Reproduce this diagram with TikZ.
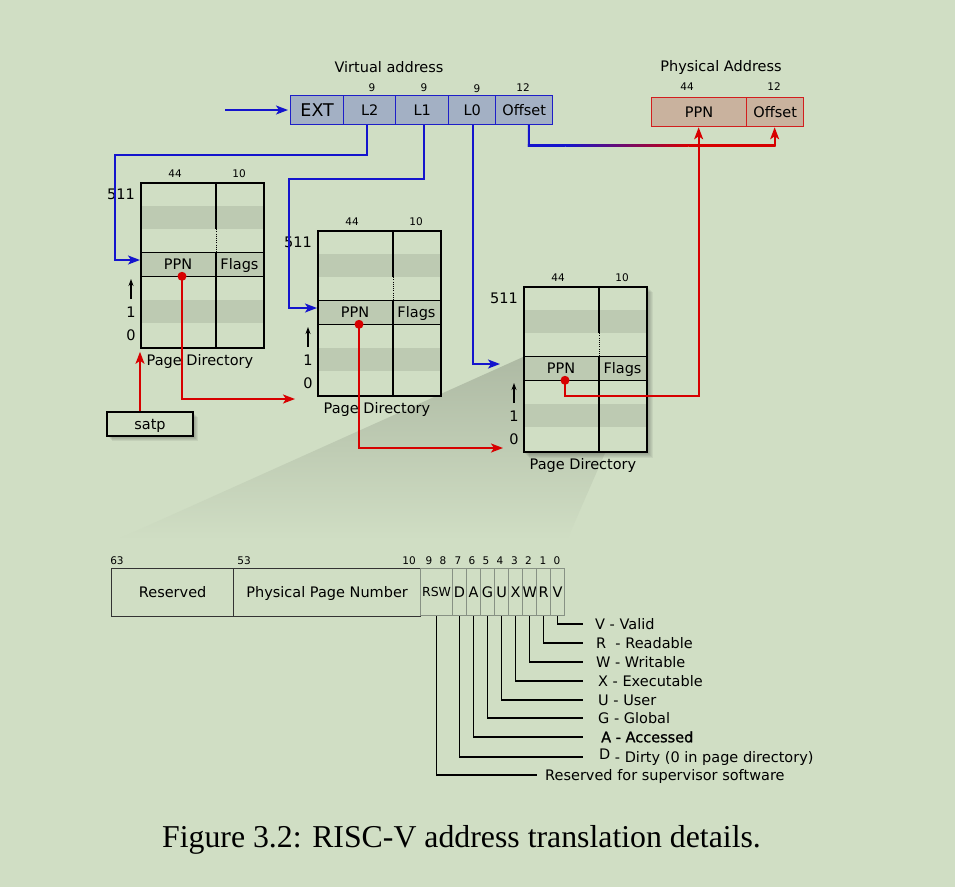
\documentclass[tikz,border=0pt]{standalone}
\usepackage{fontspec}
\setmainfont{DejaVu Sans}
\newfontfamily\capfont{Liberation Serif}
\newfontface\semib[FakeBold=1.2]{DejaVu Sans}
\usetikzlibrary{arrows.meta,calc}
\definecolor{bg}{RGB}{208,222,196}
\definecolor{band}{RGB}{189,202,178}
\definecolor{vafill}{RGB}{163,176,196}
\definecolor{valine}{RGB}{30,30,200}
\definecolor{pafill}{RGB}{201,178,158}
\definecolor{paline}{RGB}{210,30,30}
\definecolor{redln}{RGB}{215,0,0}
\definecolor{blueln}{RGB}{20,20,205}
\definecolor{bitln}{RGB}{135,145,132}
\tikzset{
  txt/.style={font=\fontsize{14.5}{17}\selectfont, inner sep=0pt},
  small/.style={font=\fontsize{10.5}{12}\selectfont, inner sep=0pt},
  celltxt/.style={txt, text height=10.6pt, text depth=0pt},
  vacell/.style={celltxt, draw=valine, fill=vafill, line width=1.3pt, minimum height=29pt, anchor=north west},
  pacell/.style={celltxt, draw=paline, fill=pafill, line width=1.3pt, minimum height=29pt, anchor=north west},
  bl/.style={draw=blueln, line width=1.8pt},
  rl/.style={draw=redln, line width=1.8pt},
  tipb/.style={-{Stealth[length=12pt,width=9pt,inset=3pt]}},
  gridln/.style={draw=black, line width=1.2pt},
  ptebox/.style={celltxt, draw=black!80, line width=1.3pt, minimum height=48pt, anchor=north west},
  bitbox/.style={celltxt, draw=bitln, line width=1.1pt, minimum height=47pt, anchor=north west, font=\fontsize{14.5}{17}\selectfont},
  leader/.style={draw=black, line width=1.2pt},
  legend/.style={celltxt, anchor=west},
  pagedir/.pic={
    \fill[bg] (0,0) rectangle (123,165);
    \fill[band] (0,23.57) rectangle (123,47.14);
    \fill[band] (0,70.71) rectangle (123,94.29);
    \fill[band] (0,117.86) rectangle (123,141.43);
    \draw[gridln] (0,70.71) -- (123,70.71) (0,94.29) -- (123,94.29);
    \draw[gridln] (76,0) -- (76,47.14) (76,70.71) -- (76,165);
    \draw[gridln, line width=0.9pt, dash pattern=on 1pt off 1.2pt] (76,47.14) -- (76,70.71);
    \node[draw, line width=1.8pt, minimum width=123pt, minimum height=165pt, inner sep=0pt, anchor=north west] (-box) at (0,0) {};
    \node[celltxt] (-ppn) at (38,82.5) {PPN};
    \node[celltxt] (-flags) at (99.5,82.5) {Flags};
    \node[small, anchor=base] (-w1) at (35,-5) {44};
    \node[small, anchor=base] (-w2) at (99,-5) {10};
    \node[txt, anchor=base east] (-top) at (-5,17) {511};
    \node[txt, anchor=base] (-one) at (-9,135) {1};
    \node[txt, anchor=base] (-zero) at (-9,158) {0};
    \draw[line width=1.1pt, -{Stealth[length=7pt,width=5pt]}] (-9,117) -- (-9,97);
    \node[txt, anchor=base] (-lab) at (60,183) {Page Directory};
    \coordinate (-dot) at (42,94.29);
    \coordinate (-in) at (0,78);
  }
}
\begin{document}
\begin{tikzpicture}[x=1pt,y=-1pt]
\useasboundingbox (0,0) rectangle (955,887);
\fill[bg] (0,0) rectangle (955,887);

% wedge
\shade[top color=band!92!black, bottom color=bg] (523,357) -- (647,357) -- (567,540) -- (116,540) -- cycle;

% virtual address
\node[txt, anchor=base] (vatitle) at (389,72) {Virtual address};
\node[vacell, minimum width=53pt, font=\fontsize{17.5}{20}\selectfont, text height=12.8pt] (ext) at (290,95) {EXT};
\node[vacell, minimum width=52pt] (l2) at (343,95) {L2};
\node[vacell, minimum width=53pt] (l1) at (395,95) {L1};
\node[vacell, minimum width=47pt] (l0) at (448,95) {L0};
\node[vacell, minimum width=57pt] (off) at (495,95) {Offset};
\node[small, anchor=base] (n9a) at (372,91) {9};
\node[small, anchor=base] (n9b) at (424,91) {9};
\node[small, anchor=base] (n9c) at (477,92) {9};
\node[small, anchor=base] (n12a) at (523,91) {12};
\coordinate (vin) at (225,110);
\draw[bl,tipb,shorten >=2pt] (vin) -- (vin -| ext.west);

% physical address
\node[txt, anchor=base] (patitle) at (721,71) {Physical Address};
\node[pacell, minimum width=95pt] (pappn) at (651,97) {PPN};
\node[pacell, minimum width=57pt] (paoff) at (746,97) {Offset};
\node[small, anchor=base] (n44p) at (687,90) {44};
\node[small, anchor=base] (n12p) at (774,90) {12};
\coordinate (pappnin) at ([xshift=-0.5pt]pappn.south);
\coordinate (paoffin) at ([xshift=-0.5pt]paoff.south);

% page directories
\pic (pd1) at (140,182) {pagedir};
\pic (pd2) at (317,230) {pagedir};
\foreach \s in {1,...,6} \fill[black, opacity=0.05] (523+\s,286+\s) rectangle (647+\s,452+\s);
\pic (pd3) at (523,286) {pagedir};

% satp
\foreach \s in {1,...,5} \fill[black, opacity=0.06] (107+\s,412+\s) rectangle (193+\s,436+\s);
\node[celltxt, draw, line width=1.3pt, fill=bg, minimum width=86pt, minimum height=24pt] (satp) at (150,424) {satp};

% blue connectors
\coordinate (b2) at (115,155);
\draw[bl,tipb] ([xshift=-3pt]l2.south) |- (b2) |- (pd1-in);
\coordinate (b1) at (289,179);
\draw[bl,tipb] ([xshift=1.5pt]l1.south) |- (b1) |- (pd2-in);
\coordinate (b0) at (500,364);
\draw[bl,tipb] ([xshift=0.5pt]l0.south) |- (b0);

% offset connector with colour blend
\coordinate (o1) at ([xshift=4.5pt]off.south);
\coordinate (o2) at ([yshift=-20pt]o1);
\coordinate (o3) at (o2 -| paoffin);
\draw[bl] (o1) -- (o2) -- (o3);
\coordinate (oa) at ($(o2)!0.15!(o3)$);
\coordinate (ob) at ($(o2)!0.65!(o3)$);
\shade[left color=blueln, right color=blueln] ($(o1)+(-0.9,0)$) rectangle ($(o2)+(0.9,0.9)$);
\shade[left color=blueln, right color=blueln] ($(o2)+(-0.9,-0.9)$) rectangle ($(oa)+(0,0.9)$);
\shade[left color=blueln, right color=redln] ($(oa)+(0,-0.9)$) rectangle ($(ob)+(0,0.9)$);
\shade[left color=redln, right color=redln] ($(ob)+(0,-0.9)$) rectangle ($(o3)+(0.9,0.9)$);
\draw[rl,tipb] (o3) -- (paoffin);

% red connectors
\coordinate (r1) at (295,399);
\draw[rl,tipb] (pd1-dot) |- (r1);
\coordinate (r2) at (503,448);
\draw[rl,tipb] (pd2-dot) |- (r2);
\draw[rl,tipb] (pd3-dot) -- ++(0,15.71) -| (pappnin);
\draw[rl,tipb] (satp.north -| pd1-box.south west) -- ([yshift=-3pt]pd1-box.south west);
\fill[redln] (pd1-dot) circle (4.5);
\fill[redln] (pd2-dot) circle (4.5);
\fill[redln] (pd3-dot) circle (4.5);

% PTE format
\node[ptebox, minimum width=122pt] (res) at (111,568) {Reserved};
\node[ptebox, minimum width=187pt] (ppnf) at (233,568) {Physical Page Number};
\node[bitbox, minimum width=32pt, font=\fontsize{12.5}{14}\selectfont, text height=9.1pt] (bRSW) at (420,568) {RSW};
\foreach \n [count=\k from 0] in {D,A,G,U,X,W,R,V}
  \node[bitbox, minimum width=14pt] (b\n) at (452+14*\k,568) {\n};
\foreach \t/\xx in {63/117,53/244,10/409,9/429,8/443,7/458,6/472,5/486,4/500,3/514.5,2/528.5,1/543,0/557}
  \node[small, anchor=base] at (\xx,564) {\t};

% legend
\node[legend] (lV) at (595,624) {V - Valid};
\node[legend] (lR) at (596,643) {R\ \ - Readable};
\node[legend] (lW) at (596,662) {W - Writable};
\node[legend] (lX) at (598,681) {X - Executable};
\node[legend] (lU) at (598,700) {U - User};
\node[legend] (lG) at (598,718) {G - Global};
\node[legend, font=\semib\fontsize{14.5}{17}\selectfont] (lA) at (601,737) {A - Accessed};
\node[legend] (lD) at (599,757) {\raisebox{3pt}{D} - Dirty (0 in page directory)};
\node[legend] (lRSW) at (545,775) {Reserved for supervisor software};
\draw[leader] (bV.south) |- ([xshift=-12pt]lV.west);
\draw[leader] (bR.south) |- ([xshift=-13pt]lR.west);
\draw[leader] (bW.south) |- ([xshift=-13pt]lW.west);
\draw[leader] (bX.south) |- ([xshift=-15pt]lX.west);
\draw[leader] (bU.south) |- ([xshift=-15pt]lU.west);
\draw[leader] (bG.south) |- ([xshift=-15pt]lG.west);
\draw[leader] (bA.south) |- ([xshift=-18pt]lA.west);
\draw[leader] (bD.south) |- ([xshift=-16pt]lD.west);
\draw[leader] (bRSW.south) |- ([xshift=-8pt]lRSW.west);

% caption
\node[font=\capfont\fontsize{31.8}{36}\selectfont, anchor=base, inner sep=0pt] (cap) at (461.5,847) {Figure 3.2: RISC-V address translation details.};
\end{tikzpicture}
\end{document}
